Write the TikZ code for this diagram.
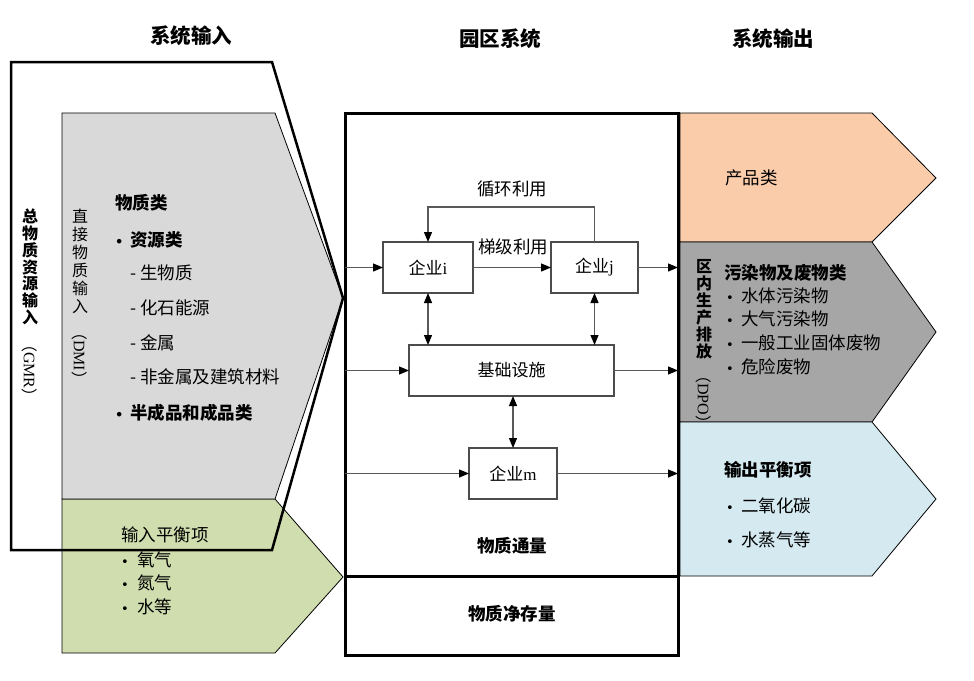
\documentclass[tikz,border=0pt]{standalone}
\usepackage{fontspec}
\setmainfont{Noto Sans CJK SC}
\newfontfamily\latin{Liberation Serif}
\newfontfamily\dejavu{DejaVu Sans}
\usetikzlibrary{arrows.meta}
\definecolor{dmigray}{RGB}{217,217,217}
\definecolor{inputgreen}{RGB}{208,221,174}
\definecolor{prodorange}{RGB}{250,204,170}
\definecolor{dpogray}{RGB}{166,166,166}
\definecolor{outblue}{RGB}{212,234,240}
\tikzset{
  txt/.style={inner sep=0, font=\fontsize{17.5}{19}\selectfont},
  btxt/.style={inner sep=0, font=\fontsize{17.5}{19}\selectfont\bfseries},
  lst/.style={txt, anchor=west},
  blst/.style={btxt, anchor=west},
  hdr/.style={inner sep=0, font=\fontsize{20.5}{22}\selectfont\bfseries},
  unit/.style={draw=black!70, line width=1.2pt, fill=white, inner sep=0, outer sep=0,
               font=\fontsize{17}{19}\selectfont, minimum height=51pt},
  flow/.style={draw=black!65, line width=1.2pt, -{Triangle[length=10pt,width=8pt,black]}},
  biflow/.style={draw=black!65, line width=1.2pt,
                 {Triangle[length=10pt,width=8pt,black]}-{Triangle[length=10pt,width=8pt,black]}},
  outline/.style={draw=black, line width=2.5pt, line join=miter},
  thinline/.style={draw=black, line width=0.8pt},
  vtxt/.style={inner sep=0, align=center, anchor=north},
  vlat/.style={inner sep=0, rotate=-90, anchor=west, font=\fontsize{16}{18}\selectfont},
}
\newcommand{\bul}[1]{\makebox[#1][l]{\dejavu\fontsize{13}{13}\selectfont •}}
\begin{document}
\begin{tikzpicture}[x=1pt,y=-1pt]
\useasboundingbox (0,0) rectangle (974,680);

% headers
\node[hdr] (h1) at (191,36) {系统输入};
\node[hdr] (h2) at (500,39) {园区系统};
\node[hdr] (h3) at (773,39) {系统输出};

% input side shapes
\filldraw[thinline, fill=inputgreen] (62,499) -- (275,499) -- (343,577) -- (275,653) -- (62,653) -- cycle;
\filldraw[thinline, fill=dmigray] (62,113) -- (275,113) -- (343,298) -- (275,499) -- (62,499) -- cycle;

% input texts
\node[blst] (m0) at (115,203) {物质类};
\node[blst] (m1) at (115,240) {\bul{15pt}资源类};
\node[lst] (m2) at (130,273) {- 生物质};
\node[lst] (m3) at (130,308) {- 化石能源};
\node[lst] (m4) at (130,343) {- 金属};
\node[lst] (m5) at (130,377) {- 非金属及建筑材料};
\node[blst] (m6) at (115,413) {\bul{15pt}半成品和成品类};

\node[lst] (g0) at (121,535) {输入平衡项};
\node[lst] (g1) at (121,560) {\bul{16pt}氧气};
\node[lst] (g2) at (121,583) {\bul{16pt}氮气};
\node[lst] (g3) at (121,607) {\bul{16pt}水等};

% GMR outline
\draw[outline] (11,62) -- (272,62) -- (343,298) -- (272,550) -- (11,550) -- cycle;

% vertical labels
\node[vtxt, font=\fontsize{16}{16.7}\selectfont\bfseries] (gmr) at (30,209) {总\\物\\质\\资\\源\\输\\入};
\node[vlat] (gmrl) at (30,336) {（{\latin GMR}）};
\node[vtxt, font=\fontsize{16}{18}\selectfont] (dmi) at (80,209) {直\\接\\物\\质\\输\\入};
\node[vlat] (dmil) at (80,324) {（{\latin DMI}）};

% output chevrons
\filldraw[thinline, fill=prodorange] (680,113) -- (872,113) -- (936,178) -- (872,242) -- (680,242) -- cycle;
\filldraw[thinline, fill=dpogray] (680,242) -- (872,242) -- (936,332) -- (872,422) -- (680,422) -- cycle;
\filldraw[thinline, fill=outblue] (680,422) -- (872,422) -- (936,499) -- (872,576) -- (680,576) -- cycle;

\node[lst] (p0) at (725,178) {产品类};
\node[blst] (d0) at (724,273) {污染物及废物类};
\node[lst] (d1) at (726,296) {\bul{15pt}水体污染物};
\node[lst] (d2) at (726,319) {\bul{15pt}大气污染物};
\node[lst] (d3) at (726,343) {\bul{15pt}一般工业固体废物};
\node[lst] (d4) at (726,367) {\bul{15pt}危险废物};
\node[vtxt, font=\fontsize{16}{17}\selectfont\bfseries] (dpo) at (704,259) {区\\内\\生\\产\\排\\放};
\node[vlat] (dpol) at (704,367) {（{\latin DPO}）};

\node[blst] (o0) at (724,470) {输出平衡项};
\node[lst] (o1) at (726,506) {\bul{15pt}二氧化碳};
\node[lst] (o2) at (726,540) {\bul{15pt}水蒸气等};

% park system box
\node[draw, line width=3pt, minimum width=333pt, minimum height=542pt, inner sep=0, outer sep=0] (sys) at (511.5,384) {};
\coordinate (sepL) at (345,576);
\coordinate (sepR) at (678,576);
\draw[line width=3pt] (sepL) -- (sepR);

\node[unit, minimum width=90pt] (ei) at (428,267.5) {企业{\latin i}};
\node[unit, minimum width=87pt] (ej) at (594.5,267.5) {企业{\latin j}};
\node[unit, minimum width=205pt] (infra) at (511.5,370.5) {基础设施};
\node[unit, minimum width=88pt] (em) at (513,473.5) {企业{\latin m}};

\node[txt] (lcas) at (513,247) {梯级利用};
\node[txt] (lcyc) at (512,189) {循环利用};
\node[btxt] (thr) at (512,546) {物质通量};
\node[btxt] (stk) at (512,614) {物质净存量};

\draw[flow] (sys.west |- ei.west) -- (ei.west);
\draw[flow] (ei.east) -- (ej.west);
\draw[flow] (ej.east) -- (sys.east |- ej.east);
\draw[flow] (ej.north) -- ++(0,-35) -| (ei.north);
\draw[biflow] (ei.south) -- (ei.south |- infra.north);
\draw[biflow] (ej.south) -- (ej.south |- infra.north);
\draw[flow] (sys.west |- infra.west) -- (infra.west);
\draw[flow] (infra.east) -- (sys.east |- infra.east);
\draw[biflow] (em.north) -- (em.north |- infra.south);
\draw[flow] (sys.west |- em.west) -- (em.west);
\draw[flow] (em.east) -- (sys.east |- em.east);
\end{tikzpicture}
\end{document}
